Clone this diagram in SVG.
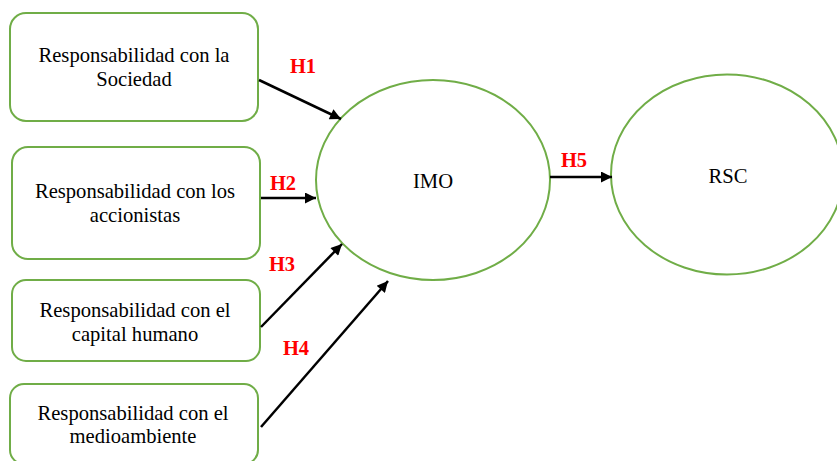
<svg xmlns="http://www.w3.org/2000/svg" width="837" height="461" viewBox="0 0 837 461">
<defs>
<marker id="ah" viewBox="0 0 10 10" refX="10" refY="5" markerWidth="5" markerHeight="4.4" orient="auto" markerUnits="strokeWidth">
<path d="M0,0 L10,5 L0,10 z" fill="#000"/>
</marker>
<style>
.box{fill:#fff;stroke:#70AD47;stroke-width:2}
.t{font-family:"Liberation Serif","Times New Roman",serif;font-size:20.6px;fill:#000;text-anchor:middle}
.h{font-family:"Liberation Serif","Times New Roman",serif;font-size:20.5px;font-weight:bold;fill:#FF0000;text-anchor:middle}
.c{stroke:#000;stroke-width:2.5;fill:none;marker-end:url(#ah)}
</style>
</defs>
<rect width="837" height="461" fill="#fff"/>
<g id="n1"><rect class="box" x="10" y="13" width="248" height="108" rx="16"/><text class="t" x="134" y="62">Responsabilidad con la</text><text class="t" x="134" y="86">Sociedad</text></g>
<g id="n2"><rect class="box" x="12" y="147" width="248" height="112" rx="16"/><text class="t" x="135" y="198">Responsabilidad con los</text><text class="t" x="135" y="222">accionistas</text></g>
<g id="n3"><rect class="box" x="12" y="280" width="248" height="81" rx="14"/><text class="t" x="135" y="317">Responsabilidad con el</text><text class="t" x="135" y="341">capital humano</text></g>
<g id="n4"><rect class="box" x="10" y="384" width="248" height="80" rx="14"/><text class="t" x="133" y="420">Responsabilidad con el</text><text class="t" x="133" y="443">medioambiente</text></g>
<g id="imo"><ellipse class="box" cx="433" cy="180" rx="117" ry="100"/><text class="t" x="433" y="188">IMO</text></g>
<g id="rsc"><ellipse class="box" cx="727" cy="174.5" rx="116" ry="100"/><text class="t" x="728" y="183">RSC</text></g>
<g id="connectors">
<line class="c" x1="259" y1="80" x2="341" y2="119"/>
<line class="c" x1="261" y1="198" x2="316" y2="198"/>
<line class="c" x1="261" y1="327" x2="342" y2="244"/>
<line class="c" x1="261" y1="427" x2="388" y2="281"/>
<line class="c" x1="550" y1="177" x2="612" y2="177"/>
<text class="h" x="303" y="73">H1</text>
<text class="h" x="283" y="190">H2</text>
<text class="h" x="282" y="271">H3</text>
<text class="h" x="296" y="355">H4</text>
<text class="h" x="574" y="167">H5</text>
</g>
</svg>
